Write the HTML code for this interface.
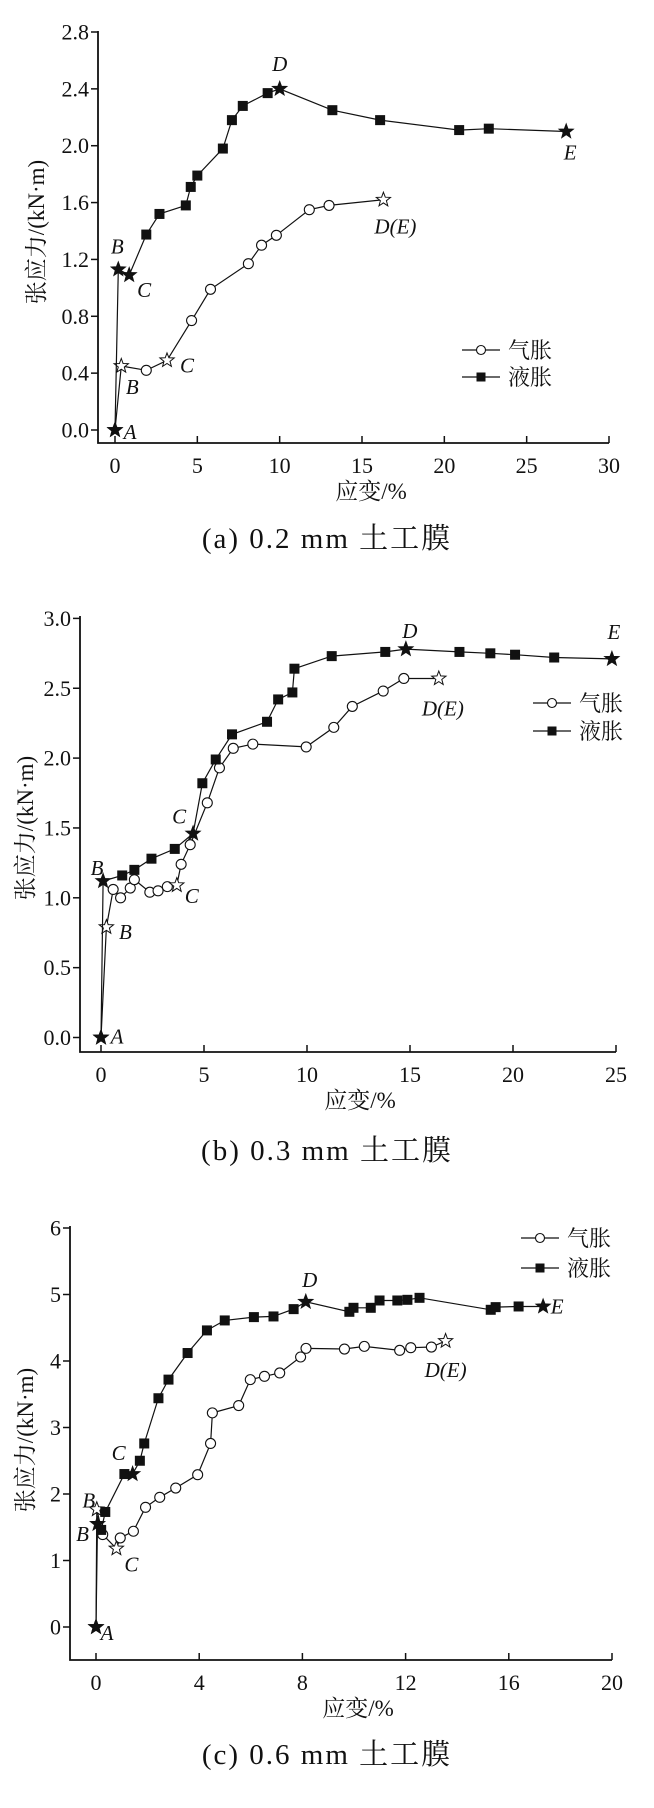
<!DOCTYPE html>
<html><head><meta charset="utf-8">
<style>
html,body{margin:0;padding:0;background:#fff;}
svg{display:block;}
text{font-family:"Liberation Serif","Noto Serif CJK SC",serif;fill:#111;}
.cn{font-family:"Liberation Serif","Noto Serif CJK SC",serif;}
</style></head>
<body>
<svg id="fig" width="654" height="1808" viewBox="0 0 654 1808" xmlns="http://www.w3.org/2000/svg"></svg>
<script>
// ---------- Chart (a) 0.2 mm ----------
const aLiqX=[0,0.2,0.86,1.9,2.7,4.3,4.6,5.0,6.55,7.1,7.76,9.27,10.0,13.2,16.1,20.9,22.7,27.4];
const aLiqY=[0,1.13,1.09,1.375,1.52,1.58,1.71,1.79,1.98,2.18,2.28,2.37,2.40,2.25,2.18,2.11,2.12,2.10];
const aLiqStar=[0,1,2,12,17];
const aGasX=[0,0.38,1.9,3.16,4.65,5.8,8.1,8.9,9.8,11.8,13.0,16.3];
const aGasY=[0,0.45,0.42,0.49,0.77,0.99,1.17,1.30,1.37,1.55,1.58,1.62];
const aGasStar=[0,1,3,11];
const aXTicks=[0,5,10,15,20,25,30];
const aYTicks=["0.0","0.4","0.8","1.2","1.6","2.0","2.4","2.8"];
// ---------- Chart (b) 0.3 mm ----------
const bLiqX=[0,0.1,1.03,1.62,2.45,3.58,4.47,4.92,5.57,6.36,8.06,8.6,9.29,9.39,11.2,13.8,14.8,17.4,18.9,20.1,22.0,24.8];
const bLiqY=[0,1.12,1.16,1.20,1.28,1.35,1.46,1.82,1.99,2.17,2.26,2.42,2.47,2.64,2.73,2.76,2.78,2.76,2.75,2.74,2.72,2.71];
const bLiqStar=[0,1,6,16,21];
const bGasX=[0,0.26,0.59,0.95,1.42,1.62,2.37,2.77,3.22,3.68,3.89,4.33,5.16,5.75,6.42,7.37,9.96,11.3,12.2,13.7,14.7,16.4];
const bGasY=[0,0.79,1.06,1.00,1.07,1.13,1.04,1.05,1.08,1.09,1.24,1.38,1.68,1.93,2.07,2.10,2.08,2.22,2.37,2.48,2.57,2.57];
const bGasStar=[0,1,9,21];
const bXTicks=[0,5,10,15,20,25];
const bYTicks=["0.0","0.5","1.0","1.5","2.0","2.5","3.0"];
// ---------- Chart (c) 0.6 mm ----------
const cLiqX=[0,0.06,0.2,0.36,1.10,1.42,1.70,1.87,2.42,2.81,3.55,4.30,4.99,6.12,6.88,7.66,8.13,9.82,9.98,10.65,10.99,11.68,12.07,12.54,15.3,15.49,16.38,17.33];
const cLiqY=[0,1.55,1.46,1.73,2.30,2.30,2.50,2.76,3.44,3.72,4.12,4.46,4.61,4.66,4.67,4.78,4.89,4.74,4.80,4.80,4.91,4.91,4.92,4.95,4.77,4.81,4.82,4.82];
const cLiqStar=[0,1,5,16,27];
const cGasX=[0,0.03,0.26,0.79,0.94,1.45,1.92,2.47,3.09,3.94,4.44,4.51,5.53,5.98,6.53,7.12,7.93,8.14,9.63,10.4,11.77,12.2,13.0,13.55];
const cGasY=[0,1.77,1.39,1.18,1.34,1.44,1.80,1.95,2.09,2.29,2.76,3.22,3.33,3.72,3.77,3.82,4.06,4.19,4.18,4.22,4.16,4.20,4.21,4.30];
const cGasStar=[0,1,3,23];
const cXTicks=[0,4,8,12,16,20];
const cYTicks=["0","1","2","3","4","5","6"];

const NS="http://www.w3.org/2000/svg";
const svg=document.getElementById('fig');
function mk(tag,attrs,parent){const e=document.createElementNS(NS,tag);for(const k in attrs)e.setAttribute(k,attrs[k]);(parent||svg).appendChild(e);return e;}
function starPts(cx,cy,r){let p=[];for(let i=0;i<10;i++){const rr=i%2?r*0.42:r;const a=-Math.PI/2+i*Math.PI/5;p.push((cx+rr*Math.cos(a)).toFixed(1)+','+(cy+rr*Math.sin(a)).toFixed(1));}return p.join(' ');}

function chart(cfg){
  const g=mk('g',{});
  
  
  const X=v=>cfg.x0+(v-cfg.xmin)/(cfg.xmax-cfg.xmin)*(cfg.x1-cfg.x0);
  const Y=v=>cfg.y0-(v-cfg.ymin)/(cfg.ymax-cfg.ymin)*(cfg.y0-cfg.y1);
  const ax=mk('path',{d:`M${cfg.ax} ${cfg.axTop} V${cfg.bot} H${cfg.x1}`,fill:'none',stroke:'#111','stroke-width':1.8},g);
  
  
  cfg.yt.forEach(t=>{const v=parseFloat(t);const y=Y(v);
    const tk=mk('line',{x1:cfg.ax-7,x2:cfg.ax,y1:y,y2:y,stroke:'#111','stroke-width':1.5},g);
    
    
    const tx=mk('text',{x:cfg.ax-9,y:y+7.5,'text-anchor':'end','font-size':22},g);tx.textContent=t;
    
    
  });
  cfg.xt.forEach(t=>{const x=X(t);
    const tk=mk('line',{x1:x,x2:x,y1:cfg.bot,y2:cfg.bot-7,stroke:'#111','stroke-width':1.5},g);
    
    
    const tx=mk('text',{x:x,y:cfg.bot+30,'text-anchor':'middle','font-size':22},g);tx.textContent=t;
    
    
  });
  const xl=mk('text',{x:cfg.xlx,y:cfg.bot+56,'text-anchor':'middle','font-size':23,class:'cn'},g);xl.textContent='应变/%';
  
  
  const yl=mk('text',{x:0,y:0,'text-anchor':'middle','font-size':23,class:'cn',transform:`translate(${cfg.ylx},${cfg.yly}) rotate(-90)`},g);yl.textContent='张应力/(kN·m)';
  
  
  const cap=mk('text',{x:327,y:cfg.capy,'text-anchor':'middle','font-size':29,class:'cn','letter-spacing':'2'},g);cap.textContent=cfg.cap;
  
  
  function series(xs,ys,stars,filled,nm){
    const sg=mk('g',{},g);
    
    
    mk('polyline',{points:xs.map((x,i)=>X(x).toFixed(1)+','+Y(ys[i]).toFixed(1)).join(' '),fill:'none',stroke:'#111','stroke-width':1.2},sg);
    xs.forEach((x,i)=>{const px=X(x),py=Y(ys[i]);let m;
      if(stars.includes(i)){m=mk('polygon',{points:starPts(px,py,7.5),fill:filled?'#111':'#fff',stroke:'#111','stroke-width':1},sg);}
      else if(filled){m=mk('rect',{x:px-5,y:py-5,width:10,height:10,fill:'#111'},sg);}
      else{m=mk('circle',{cx:px,cy:py,r:5,fill:'#fff',stroke:'#111','stroke-width':1.1},sg);}
      
    });
  }
  series(cfg.gx,cfg.gy,cfg.gs,false,'series-gas');
  series(cfg.lx,cfg.ly,cfg.ls,true,'series-liquid');
  cfg.labels.forEach(l=>{const xs=l[1]==='l'?cfg.lx:cfg.gx,ys=l[1]==='l'?cfg.ly:cfg.gy;
    const t=mk('text',{x:X(xs[l[2]])+l[3],y:Y(ys[l[2]])+l[4],'font-size':21,'font-style':'italic','text-anchor':'middle'},g);t.textContent=l[0];
    
    
  });
  const lg=mk('g',{},g);
  
  
  [[cfg.lgy1,false,'气胀'],[cfg.lgy2,true,'液胀']].forEach(e=>{
    const eg=mk('g',{},lg);
    
    
    mk('line',{x1:cfg.lgx,x2:cfg.lgx+38,y1:e[0],y2:e[0],stroke:'#111','stroke-width':1.2},eg);
    const cx=cfg.lgx+19;
    if(e[1])mk('rect',{x:cx-4.5,y:e[0]-4.5,width:9,height:9,fill:'#111'},eg);
    else mk('circle',{cx:cx,cy:e[0],r:4.5,fill:'#fff',stroke:'#111','stroke-width':1.1},eg);
    const t=mk('text',{x:cfg.lgx+46,y:e[0]+8,'font-size':22,class:'cn'},eg);t.textContent=e[2];
  });
}

chart({name:'chart-a',ax:98,axTop:31,bot:443,x0:115,x1:609,xmin:0,xmax:30,y0:430,y1:32,ymin:0,ymax:2.8,
  xt:aXTicks,yt:aYTicks,xlx:371,ylx:44,yly:232,capy:548,cap:'(a) 0.2 mm 土工膜',
  lx:aLiqX,ly:aLiqY,ls:aLiqStar,gx:aGasX,gy:aGasY,gs:aGasStar,lgx:462,lgy1:350,lgy2:377,
  labels:[['D','l',12,0,-18],['E','l',17,4,28],['D(E)','g',11,12,34],['B','l',1,-1,-16],['C','l',2,15,22],['C','g',3,20,12],['B','g',1,11,28],['A','g',0,15,9]]});
chart({name:'chart-b',ax:80,axTop:616,bot:1052,x0:101,x1:616,xmin:0,xmax:25,y0:1037.5,y1:618.4,ymin:0,ymax:3.0,
  xt:bXTicks,yt:bYTicks,xlx:360,ylx:33,yly:828,capy:1160,cap:'(b) 0.3 mm 土工膜',
  lx:bLiqX,ly:bLiqY,ls:bLiqStar,gx:bGasX,gy:bGasY,gs:bGasStar,lgx:533,lgy1:703,lgy2:731,
  labels:[['D','l',16,4,-11],['E','l',21,2,-20],['D(E)','g',21,4,37],['C','l',6,-14,-10],['C','g',9,15,18],['B','l',1,-6,-6],['B','g',1,19,12],['A','g',0,16,6]]});
chart({name:'chart-c',ax:70,axTop:1226,bot:1660,x0:96,x1:612,xmin:0,xmax:20,y0:1627,y1:1228,ymin:0,ymax:6,
  xt:cXTicks,yt:cYTicks,xlx:358,ylx:33,yly:1440,capy:1764,cap:'(c) 0.6 mm 土工膜',
  lx:cLiqX,ly:cLiqY,ls:cLiqStar,gx:cGasX,gy:cGasY,gs:cGasStar,lgx:521,lgy1:1238,lgy2:1268,
  labels:[['D','l',16,4,-15],['E','l',27,14,7],['D(E)','g',23,0,36],['C','l',5,-14,-14],['C','g',3,15,23],['B','g',1,-8,-2],['B','l',1,-15,17],['A','l',0,11,13]]});
</script>
</body></html>
